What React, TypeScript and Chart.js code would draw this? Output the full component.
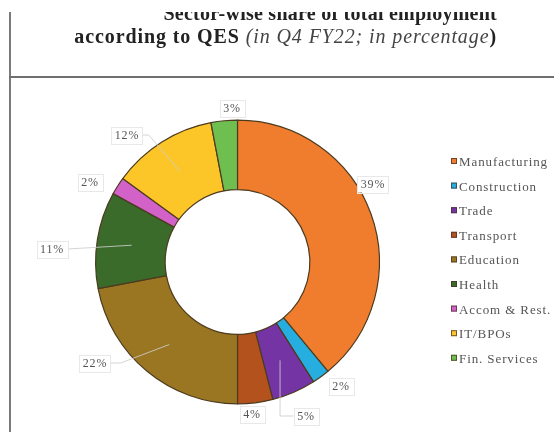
import React, { useEffect, useRef } from "react";
import { Chart, registerables } from "chart.js";

Chart.register(...registerables);

const categories = [
  "Manufacturing",
  "Construction",
  "Trade",
  "Transport",
  "Education",
  "Health",
  "Accom & Rest.",
  "IT/BPOs",
  "Fin. Services",
];
const shares = [39, 2, 5, 4, 22, 11, 2, 12, 3];
const colors = [
  "#F07D2D",
  "#26AEE0",
  "#7434A4",
  "#B4521E",
  "#9B7622",
  "#3A6B2B",
  "#D262C8",
  "#FDC628",
  "#6FBE50",
];

// label placement relative to the doughnut centre (layout, not data)
const labelOffsets: [number, number][] = [
  [135.5, -78],
  [103.5, 124],
  [68.5, 154],
  [14.5, 152],
  [-142.5, 101],
  [-185.5, -13],
  [-147.5, -80],
  [-110.5, -127],
  [-5.5, -154],
];
// leader lines: null or { side, elbow } (elbow: px from label edge, or "centroid")
const leaders: ({ side: "left" | "right"; elbow: number | "centroid" } | null)[] = [
  null,
  null,
  { side: "left", elbow: "centroid" },
  null,
  { side: "right", elbow: 10 },
  { side: "right", elbow: 0 },
  null,
  { side: "right", elbow: 6 },
  null,
];

const SERIF = '"Liberation Serif", "Times New Roman", serif';

const labelPlugin = {
  id: "sliceLabels",
  afterDatasetsDraw(chart: any) {
    const ctx = chart.ctx as CanvasRenderingContext2D;
    const meta = chart.getDatasetMeta(0);
    ctx.save();
    ctx.font = `12px ${SERIF}`;
    try {
      (ctx as any).letterSpacing = "0.8px";
    } catch (e) {}
    const boxes: any[] = [];
    meta.data.forEach((arc: any, i: number) => {
      const p = arc.getProps(
        ["x", "y", "startAngle", "endAngle", "innerRadius", "outerRadius"],
        true
      );
      const mid = (p.startAngle + p.endAngle) / 2;
      const rm = (p.innerRadius + p.outerRadius) / 2;
      const cx = p.x + Math.cos(mid) * rm;
      const cy = p.y + Math.sin(mid) * rm;
      const text = `${shares[i]}%`;
      const lx = p.x + labelOffsets[i][0];
      const ly = p.y + labelOffsets[i][1];
      const w = ctx.measureText(text).width + 7;
      const h = 17;
      boxes.push({ text, lx, ly, w, h });
      const ld = leaders[i];
      if (ld) {
        const sx = ld.side === "right" ? lx + w / 2 : lx - w / 2;
        let ex: number;
        if (ld.elbow === "centroid") ex = cx;
        else ex = ld.side === "right" ? sx + ld.elbow : sx - ld.elbow;
        ctx.beginPath();
        ctx.moveTo(sx, ly);
        ctx.lineTo(ex, ly);
        ctx.lineTo(cx, cy);
        ctx.strokeStyle = "rgba(205,205,205,0.85)";
        ctx.lineWidth = 1;
        ctx.stroke();
      }
    });
    boxes.forEach((b) => {
      ctx.fillStyle = "#ffffff";
      ctx.fillRect(b.lx - b.w / 2, b.ly - b.h / 2, b.w, b.h);
      ctx.strokeStyle = "#e8e8e8";
      ctx.lineWidth = 1;
      ctx.strokeRect(
        Math.round(b.lx - b.w / 2) + 0.5,
        Math.round(b.ly - b.h / 2) + 0.5,
        Math.round(b.w),
        b.h
      );
      ctx.fillStyle = "#555555";
      ctx.textAlign = "center";
      ctx.textBaseline = "middle";
      ctx.fillText(b.text, b.lx, b.ly + 1);
    });
    ctx.restore();
  },
};

const legendPlugin = {
  id: "sideLegend",
  afterDraw(chart: any) {
    const ctx = chart.ctx as CanvasRenderingContext2D;
    ctx.save();
    ctx.font = `13px ${SERIF}`;
    try {
      (ctx as any).letterSpacing = "0.9px";
    } catch (e) {}
    const x0 = 451;
    const y0 = 161.5;
    const step = 24.6;
    categories.forEach((c, i) => {
      const y = y0 + i * step;
      ctx.fillStyle = colors[i];
      ctx.fillRect(x0, y - 3.5, 6, 6);
      ctx.strokeStyle = "rgba(70,50,40,0.75)";
      ctx.lineWidth = 1;
      ctx.strokeRect(x0 + 0.5, y - 3, 5, 5);
      ctx.fillStyle = "#555555";
      ctx.textAlign = "left";
      ctx.textBaseline = "middle";
      ctx.fillText(c, x0 + 8, y + 1);
    });
    ctx.restore();
  },
};

export default function App() {
  const ref = useRef<HTMLCanvasElement | null>(null);
  useEffect(() => {
    if (!ref.current) return;
    const chart = new Chart(ref.current, {
      type: "doughnut",
      data: {
        labels: categories,
        datasets: [
          {
            data: shares,
            backgroundColor: colors,
            borderColor: "#4d3b1f",
            borderWidth: 1.2,
          },
        ],
      },
      options: {
        responsive: false,
        animation: false,
        devicePixelRatio: 1,
        cutout: "51%",
        layout: { padding: { left: 95, right: 174, top: 119.5, bottom: 27.5 } },
        plugins: {
          legend: { display: false },
          tooltip: { enabled: false },
          title: { display: false },
        },
      },
      plugins: [labelPlugin, legendPlugin],
    });
    return () => chart.destroy();
  }, []);

  return (
    <div
      style={{
        position: "absolute",
        left: 0,
        top: 0,
        width: 554,
        height: 432,
        background: "#ffffff",
        overflow: "hidden",
      }}
    >
      <canvas
        ref={ref}
        width={554}
        height={432}
        style={{ position: "absolute", left: 0, top: 0, width: 554, height: 432 }}
      />
      {/* frame lines */}
      <div
        style={{
          position: "absolute",
          left: 9,
          top: 12,
          width: 2,
          height: 420,
          background: "#7a7a7a",
        }}
      />
      <div
        style={{
          position: "absolute",
          left: 9,
          top: 76,
          width: 545,
          height: 2,
          background: "#6f6f6f",
        }}
      />
      {/* title line 1 (top clipped) */}
      <div
        style={{
          position: "absolute",
          left: 0,
          top: 12,
          width: 497,
          height: 14,
          overflow: "hidden",
        }}
      >
        <div
          style={{
            position: "absolute",
            right: 0,
            top: -8.75,
            whiteSpace: "nowrap",
            fontFamily: SERIF,
            fontWeight: "bold",
            fontSize: 20,
            lineHeight: "20px",
            letterSpacing: "0.25px",
            color: "#222222",
          }}
        >
          Sector-wise share of total employment
        </div>
      </div>
      {/* title line 2 */}
      <div
        style={{
          position: "absolute",
          right: 554 - 497,
          top: 26.25,
          whiteSpace: "nowrap",
          fontFamily: SERIF,
          fontSize: 20,
          lineHeight: "20px",
          letterSpacing: "0.9px",
          color: "#222222",
        }}
      >
        <span style={{ fontWeight: "bold" }}>according to QES </span>
        <span style={{ fontStyle: "italic", color: "#444444" }}>
          (in Q4 FY22; in percentage
        </span>
        <span style={{ fontWeight: "bold" }}>)</span>
      </div>
    </div>
  );
}
